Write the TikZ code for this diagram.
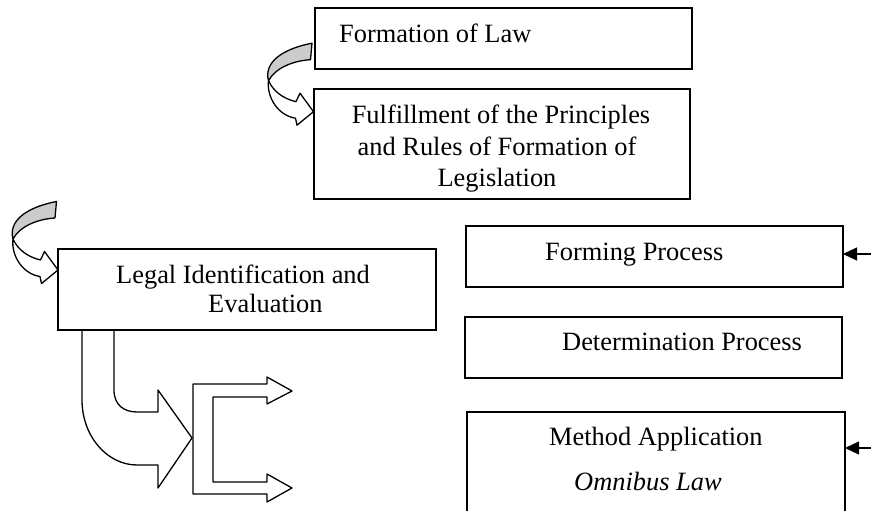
\documentclass[tikz,border=0pt]{standalone}
\usepackage{fontspec}
\setmainfont{Liberation Serif}
\usetikzlibrary{arrows.meta}
\begin{document}
\begin{tikzpicture}[x=1pt,y=-1pt,
  box/.style={draw, line width=1.5pt, inner sep=0pt, outer sep=0pt, anchor=north west},
  lbl/.style={inner sep=0pt, font=\fontsize{26.4}{32}\selectfont},
  ribbon/.style={draw, line width=1.3pt, line join=round},
  feed/.style={line width=1.2pt, -{Triangle[length=14pt,width=13pt]}},
  curvarrow/.pic={
    \draw[ribbon, fill=white] (-45,-31) .. controls (-47,-14) and (-35,4) .. (-18,6.5)
       -- (-16.5,13.5) -- (0,0) -- (-13.5,-18.5) -- (-17.5,-10)
       .. controls (-30,-13) and (-40,-20) .. (-45,-31) -- cycle;
    \draw[ribbon, fill=black!20] (-1.5,-68.5) .. controls (-30,-63) and (-50,-50) .. (-45,-31)
       .. controls (-38,-44) and (-20,-51) .. (-3,-52) -- cycle;
  }]
\useasboundingbox (0,0) rectangle (871,511);
\clip (0,0) rectangle (871,511);

% boxes
\node[box, minimum width=377pt, minimum height=61pt] (form) at (315,8) {};
\node[box, minimum width=376pt, minimum height=110pt] (fulfil) at (314,89) {};
\node[box, minimum width=378pt, minimum height=81pt] (legal) at (58,249) {};
\node[box, minimum width=377pt, minimum height=61pt] (forming) at (466,226) {};
\node[box, minimum width=377pt, minimum height=61pt] (determ) at (465,317) {};
\node[box, minimum width=378pt, minimum height=120pt] (method) at (467,412) {};

% texts
\node[lbl, anchor=base west] (tform) at (339,43) {Formation of Law};
\node[lbl, anchor=base] (tful1) at (501,124) {Fulfillment of the Principles};
\node[lbl, anchor=base] (tful2) at (497,155) {and Rules of Formation of};
\node[lbl, anchor=base] (tful3) at (497,186) {Legislation};
\node[lbl, anchor=base west] (tleg1) at (116,283) {Legal Identification and};
\node[lbl, anchor=base west] (tleg2) at (208,312) {Evaluation};
\node[lbl, anchor=base west] (tforming) at (545,260) {Forming Process};
\node[lbl, anchor=base west] (tdeterm) at (562,350) {Determination Process};
\node[lbl, anchor=base west] (tmeth) at (549,445) {Method Application};
\node[lbl, anchor=base west] (tomni) at (574,490) {\itshape Omnibus Law};

% curved ribbon arrows
\coordinate (tipA) at (313.5,111.7);
\coordinate (tipB) at (58,270);
\pic at (tipA) {curvarrow};
\pic at (tipB) {curvarrow};

% U-turn block arrow from the Legal box
\draw[ribbon] (114,330) -- (114,390) .. controls (114,405) and (124,412) .. (137,412)
   -- (158,412) -- (158,390) -- (192,438) -- (158,488) -- (158,465) -- (137,465)
   .. controls (107,465) and (82,436) .. (82,400) -- (82,330);

% bracket with two arrows
\draw[ribbon] (193,384) -- (267,384) -- (267,377) -- (292,391) -- (267,404) -- (267,397)
   -- (213,397) -- (213,482) -- (267,482) -- (267,474) -- (292,488) -- (267,502)
   -- (267,494) -- (193,494) -- cycle;

% feed arrows at the right
\coordinate (r1) at (871,254);
\coordinate (r2) at (871,448);
\draw[feed] (r1) -- (forming.east |- r1);
\draw[feed] (r2) -- (method.east |- r2);
\end{tikzpicture}
\end{document}
